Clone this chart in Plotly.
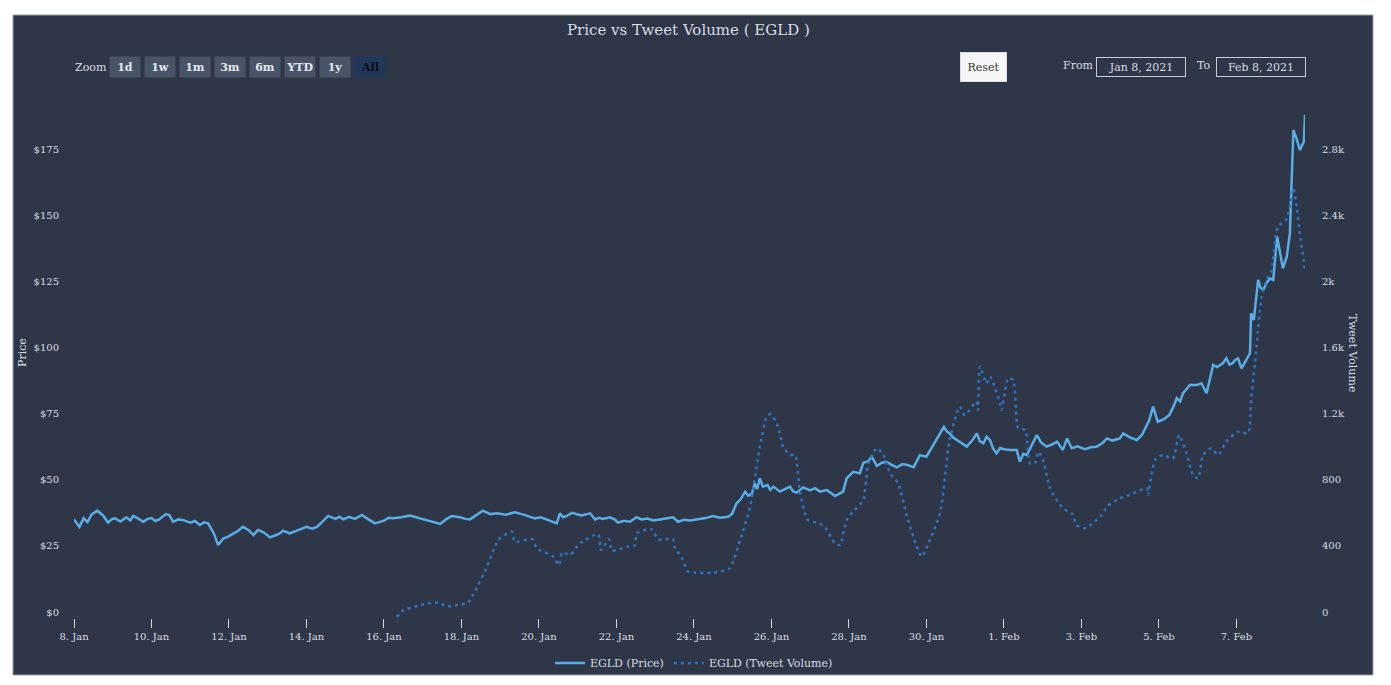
import pandas as pd
import plotly.graph_objects as go

# ---------------- data ----------------
START = "2021-01-08 00:00"

price_days = [0.00, 0.07, 0.14, 0.25, 0.35, 0.45, 0.60, 0.75, 0.88, 0.97, 1.05, 1.20, 1.35, 1.45, 1.53,
              1.65, 1.79, 1.90, 2.00, 2.10, 2.20, 2.37, 2.46, 2.56, 2.70, 2.80, 2.90, 3.00, 3.12, 3.25,
              3.36, 3.46, 3.61, 3.72, 3.85, 3.97, 4.10, 4.23, 4.36, 4.50, 4.63, 4.75, 4.90, 5.06,
              5.20, 5.30, 5.40, 5.57, 5.70, 5.80, 6.00, 6.15, 6.27, 6.40, 6.56, 6.75, 6.85, 6.95, 7.10,
              7.25, 7.43, 7.60, 7.77, 8.00, 8.12, 8.23, 8.45, 8.67, 8.85, 9.00, 9.20, 9.45, 9.60, 9.75,
              9.96, 10.10, 10.22, 10.40, 10.55, 10.75, 10.92, 11.15, 11.38, 11.60, 11.75,
              11.90, 12.05, 12.20, 12.46, 12.54, 12.62, 12.72, 12.85, 13.10, 13.32, 13.45, 13.55, 13.65,
              13.83, 13.95, 14.04, 14.20, 14.35, 14.52, 14.65, 14.80, 14.95, 15.12, 15.30, 15.46, 15.59,
              15.75, 15.90, 16.15, 16.30, 16.49, 16.67, 16.88, 16.98, 17.10, 17.20,
              17.32, 17.40, 17.49, 17.57, 17.63, 17.70, 17.78, 17.90, 17.97, 18.05, 18.22, 18.35, 18.48,
              18.56, 18.65, 18.82, 19.00, 19.12, 19.25, 19.43, 19.54, 19.64, 19.85, 19.94, 20.11, 20.28,
              20.37, 20.50, 20.59, 20.72, 20.85, 20.97, 21.10, 21.24, 21.38, 21.50, 21.67, 21.83, 22.00,
              22.14, 22.26, 22.45, 22.53, 22.60, 22.70, 22.78, 22.90, 23.04, 23.18, 23.30, 23.38, 23.47,
              23.55, 23.64, 23.72, 23.81, 23.90, 24.00, 24.15, 24.33, 24.41, 24.50, 24.59, 24.70, 24.85,
              24.95, 25.10, 25.25, 25.37, 25.52, 25.63, 25.75, 25.90, 26.09, 26.25, 26.40, 26.55, 26.66,
              26.80, 26.99, 27.08, 27.25, 27.43, 27.56, 27.64, 27.75, 27.85, 27.97, 28.12, 28.27, 28.38,
              28.46, 28.55, 28.62, 28.70, 28.80, 28.97, 29.10, 29.23, 29.40, 29.50, 29.65, 29.74, 29.82,
              29.90, 29.97, 30.04, 30.13, 30.35, 30.38, 30.45, 30.56, 30.62, 30.69, 30.78, 30.87, 30.95,
              31.05, 31.20, 31.30, 31.38, 31.47, 31.55, 31.64, 31.74, 31.77]

price_values = [35.0, 33.5, 32.2, 35.5, 34.0, 36.8, 38.3, 36.5, 33.8, 35.0, 35.5, 34.2, 35.8, 34.6, 36.3,
                35.4, 34.1, 35.2, 35.5, 34.4, 35.0, 37.0, 36.6, 34.1, 35.0, 34.8, 34.2, 33.8, 34.4, 32.9,
                33.9, 33.5, 29.7, 25.3, 27.8, 28.4, 29.5, 30.6, 32.2, 31.0, 29.1, 31.0, 30.0, 28.2,
                29.0, 29.6, 30.7, 29.7, 30.5, 31.0, 32.2, 31.5, 32.2, 34.0, 36.3, 35.2, 36.0, 35.0, 36.0,
                35.2, 36.7, 35.0, 33.5, 34.5, 35.6, 35.4, 35.8, 36.5, 35.8, 35.0, 34.5, 33.3, 35.0, 36.3,
                35.8, 35.2, 35.0, 36.8, 38.3, 37.0, 37.3, 36.8, 37.7, 36.8, 36.0,
                35.4, 35.8, 35.0, 33.5, 37.3, 35.8, 36.3, 37.5, 36.5, 37.3, 35.0, 35.6, 35.2,
                35.8, 35.0, 33.8, 34.5, 34.1, 35.8, 35.0, 35.3, 34.6, 35.0, 35.5, 35.8, 34.1,
                34.9, 34.6, 35.0, 35.5, 36.3, 35.6, 36.0, 37.0, 41.1, 42.5,
                45.5, 44.0, 44.6, 48.6, 46.5, 50.5, 47.4, 48.0, 46.2, 47.4, 45.5, 46.5, 47.4,
                45.6, 45.1, 47.1, 46.0, 46.8, 45.5, 46.1, 44.9, 43.8, 45.5, 50.5, 53.0, 52.4,
                56.4, 57.0, 58.7, 55.2, 56.4, 56.8, 55.6, 54.7, 55.9, 55.6, 54.7, 59.3, 58.7,
                62.2, 65.0, 70.0, 68.2, 67.5, 65.8, 65.0, 64.0, 62.5, 64.8, 67.5, 64.5, 63.8,
                66.2, 65.0, 61.8, 60.0, 62.0, 61.5, 61.2, 61.2, 56.8, 59.8, 59.3, 62.5, 66.9,
                64.2, 62.5, 63.4, 64.4, 61.2, 65.6, 61.9, 62.6, 61.5, 62.3, 62.5, 64.0, 65.6,
                64.8, 65.6, 67.5, 66.0, 65.0, 66.9, 69.4, 72.5, 77.6, 71.9, 72.8, 74.5, 77.8,
                80.8, 79.6, 82.7, 84.0, 85.8, 85.8, 86.4, 82.7, 93.4, 92.6, 94.0, 95.9, 93.5,
                94.0, 95.3, 95.9, 92.1, 97.8, 112.9, 110.4, 125.5, 122.6, 121.7, 124.5, 126.1, 125.5,
                141.9, 129.9, 134.3, 143.1, 182.2, 179.0, 174.6, 177.8, 187.9]

tweet_days = [8.33, 8.50, 8.85, 9.10, 9.45, 9.57, 9.90, 10.17, 10.30, 10.66, 10.86, 10.99, 11.30, 11.38,
              11.82, 11.95, 12.37, 12.52, 12.60, 12.80, 13.06, 13.53, 13.60, 13.81, 13.88, 14.27, 14.48,
              14.52, 14.91, 15.08, 15.46, 15.50, 15.68, 15.85, 16.03, 16.49, 16.92, 17.19, 17.45, 17.70,
              17.88, 17.98, 18.17, 18.30, 18.48, 18.61, 18.74, 18.94, 19.25, 19.43, 19.64, 19.77, 19.94,
              20.15, 20.37, 20.50, 20.72, 20.89, 21.06, 21.27, 21.50, 21.75, 21.88, 22.05, 22.35, 22.60,
              22.86, 22.99, 23.29, 23.33, 23.38, 23.55, 23.64, 23.90, 23.94, 24.11, 24.24, 24.37, 24.55,
              24.67, 24.80, 24.88, 25.01, 25.19, 25.52, 25.75, 25.88, 26.09, 26.53, 26.66, 26.99, 27.25,
              27.69, 27.72, 27.90, 28.10, 28.36, 28.52, 28.71, 28.88, 29.01, 29.14, 29.36, 29.53, 29.74,
              30.04, 30.30, 30.38, 30.52, 30.65, 30.78, 30.91, 31.07, 31.28, 31.40, 31.47, 31.53, 31.66,
              31.77]

tweet_values = [-30, 10, 36, 50, 56, 36, 42, 56, 103, 274, 395, 446, 486, 425,
                440, 385, 334, 284, 359, 345, 415, 470, 375, 440, 371, 395, 405,
                476, 500, 440, 440, 395, 331, 244, 238, 238, 264, 435, 637, 1000,
                1181, 1197, 1121, 1000, 950, 950, 718, 556, 536, 496, 415, 405, 556,
                617, 677, 899, 990, 950, 839, 778, 576, 395, 334, 415, 597, 1040,
                1242, 1191, 1272, 1222, 1484, 1383, 1423, 1262, 1222, 1413, 1403, 1111, 1101,
                899, 899, 969, 919, 748, 627, 597, 526, 506, 587, 637, 688, 708,
                748, 708, 919, 950, 929, 1070, 960, 829, 808, 950, 990, 950, 1030,
                1090, 1081, 1282, 1604, 1907, 2008, 2068, 2330, 2370, 2471, 2562, 2491, 2250,
                2068]

tick_dates = ["2021-01-08", "2021-01-10", "2021-01-12", "2021-01-14", "2021-01-16", "2021-01-18",
              "2021-01-20", "2021-01-22", "2021-01-24", "2021-01-26", "2021-01-28", "2021-01-30",
              "2021-02-01", "2021-02-03", "2021-02-05", "2021-02-07"]
tick_labels = ["8. Jan", "10. Jan", "12. Jan", "14. Jan", "16. Jan", "18. Jan", "20. Jan", "22. Jan",
               "24. Jan", "26. Jan", "28. Jan", "30. Jan", "1. Feb", "3. Feb", "5. Feb", "7. Feb"]

price_ticks = [0, 25, 50, 75, 100, 125, 150, 175]
price_labels = ["$0", "$25", "$50", "$75", "$100", "$125", "$150", "$175"]
volume_ticks = [0, 400, 800, 1200, 1600, 2000, 2400, 2800]
volume_labels = ["0", "400", "800", "1.2k", "1.6k", "2k", "2.4k", "2.8k"]

zoom_buttons = ["1d", "1w", "1m", "3m", "6m", "YTD", "1y", "All"]
date_from = "Jan 8, 2021"
date_to = "Feb 8, 2021"

# ---------------- build ----------------
base = pd.Timestamp(START)
price_x = base + pd.to_timedelta(price_days, unit="D")
tweet_x = base + pd.to_timedelta(tweet_days, unit="D")
x_end = base + pd.to_timedelta(max(price_days), unit="D")

OFF = 8  # the page body adds an 8px margin; reference pixel coords are shifted by this
W, H = 1391 - OFF, 685 - OFF
# plot area in reference pixels: x 74..1305, y 100..618
PL, PR, PT, PB = 74, 1305, 100, 618
L, T = PL - OFF, PT - OFF
R, B = W - (PR - OFF), H - (PB - OFF)
PW, PH = PR - PL, PB - PT
PX_ZERO = 612  # reference pixel row of value 0


def fx(px):
    return (px - PL) / PW


def fy(py):
    return (PB - py) / PH


price_per_px = 175 / (PX_ZERO - 149)
vol_per_px = 2800 / (PX_ZERO - 149)
y_range = [-(PB - PX_ZERO) * price_per_px, (PX_ZERO - PT) * price_per_px]
y2_range = [-(PB - PX_ZERO) * vol_per_px, (PX_ZERO - PT) * vol_per_px]

BG = "#2e3648"
TXT = "#d9dde4"
FONT = "DejaVu Serif"

fig = go.Figure()
fig.add_trace(go.Scatter(x=price_x, y=price_values, name="EGLD (Price)", mode="lines",
                         line=dict(color="#5aaee6", width=2.5), yaxis="y"))
fig.add_trace(go.Scatter(x=tweet_x, y=tweet_values, name="EGLD (Tweet Volume)", mode="lines",
                         line=dict(color="#2d74c0", width=2.5, dash="3px,4px", shape="spline",
                                   smoothing=0.6), yaxis="y2"))


def note(text, px, py, **kw):
    d = dict(text=text, x=fx(px), y=fy(py), xref="paper", yref="paper", showarrow=False,
             xanchor="center", yanchor="middle")
    font = kw.pop("font", {})
    d["font"] = dict(size=11, color=TXT, family=FONT, **font)
    d.update(kw)
    return d


annotations = [
    note("Price vs Tweet Volume ( EGLD )", 688, 30, font=dict()),
    note("Price", 22, 353, textangle=-90),
    note("Tweet Volume", 1353, 353, textangle=90),
    note("Zoom", 91, 67),
]
annotations[0]["font"]["size"] = 15
for i, lab in enumerate(zoom_buttons):
    active = lab == "All"
    annotations.append(note("<b>%s</b>" % lab, 125 + 35 * i, 67, width=30, height=20, borderpad=0,
                            bgcolor="#22385a" if active else "#4a5468"))
    annotations[-1]["font"]["color"] = "#0b0f18" if active else "#e4e7ec"
annotations.append(note("Reset", 983.5, 67, width=45, height=28, borderpad=0, bgcolor="#f6f6f6",
                        bordercolor="#dcdcdc", borderwidth=1))
annotations[-1]["font"]["color"] = "#333333"
annotations.append(note("From", 1078, 66))
annotations.append(note("To", 1203.5, 66))
for cx, txt in [(1141, date_from), (1261, date_to)]:
    annotations.append(note(txt, cx, 67, width=88, height=18, borderpad=0,
                            bordercolor="#c9cdd6", borderwidth=1))

shapes = [dict(type="rect", xref="paper", yref="paper", x0=fx(13), x1=fx(1373), y0=fy(675),
               y1=fy(15), fillcolor=BG, line=dict(color="#9a9fa8", width=1), layer="below")]

fig.update_layout(
    width=W, height=H,
    margin=dict(l=L, r=R, t=T, b=B, autoexpand=False),
    paper_bgcolor="white",
    plot_bgcolor="rgba(0,0,0,0)",
    font=dict(family=FONT, color=TXT, size=10),
    showlegend=True,
    legend=dict(orientation="h", x=fx(694), xanchor="center", y=fy(663), yanchor="middle",
                font=dict(size=11, color=TXT, family=FONT), bgcolor="rgba(0,0,0,0)"),
    xaxis=dict(type="date", range=[base, x_end], showgrid=False, zeroline=False, showline=False,
               tickvals=pd.to_datetime(tick_dates), ticktext=tick_labels, ticks="outside",
               ticklen=9, tickwidth=1, tickcolor="#cfd3da", tickfont=dict(size=10, color=TXT)),
    yaxis=dict(range=y_range, showgrid=False, zeroline=False, showline=False, tickvals=price_ticks,
               ticktext=price_labels, ticks="", ticklabelstandoff=14,
               tickfont=dict(size=10, color=TXT)),
    yaxis2=dict(range=y2_range, overlaying="y", side="right", showgrid=False, zeroline=False,
                showline=False, tickvals=volume_ticks, ticktext=volume_labels, ticks="",
                ticklabelstandoff=16, tickfont=dict(size=10, color=TXT)),
    annotations=annotations,
    shapes=shapes,
)

fig.write_html("out.html")
